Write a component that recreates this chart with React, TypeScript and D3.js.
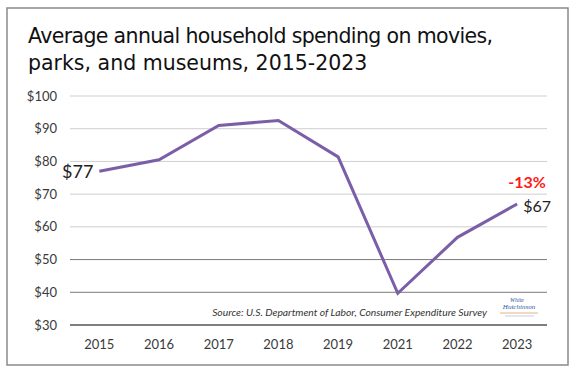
import React from "react";
import * as d3 from "d3";

const years = ["2015", "2016", "2017", "2018", "2019", "2021", "2022", "2023"];
const spending = [77, 80.5, 91, 92.5, 81.4, 39.7, 56.8, 67];
const yTicks = [30, 40, 50, 60, 70, 80, 90, 100];
const titleLines = ["Average annual household spending on movies,", "parks, and museums, 2015-2023"];
const sourceText = "Source: U.S. Department of Labor, Consumer Expenditure Survey";
const changeLabel = "-13%";

export default function App() {
  const W = 574, H = 376;
  const x = d3.scaleBand<string>().domain(years).range([69.5, 547]);
  const y = d3.scaleLinear().domain([30, 100]).range([325, 96]);
  const cx = (d: string) => (x(d) as number) + x.bandwidth() / 2;
  const line = d3.line<number>().x((_, i) => cx(years[i])).y((d) => y(d));
  const gridColor = (t: number) => (t === 30 ? "#555" : t <= 50 ? "#7a7a7a" : "#cfcfcf");
  const first = spending[0];
  const last = spending[spending.length - 1];
  const lastYear = years[years.length - 1];
  return (
    <svg width={W} height={H} style={{ position: "absolute", left: 0, top: 0, background: "#fff" }}>
      <rect x={7} y={8} width={561} height={357} fill="#fff" stroke="#8a8a8a" strokeWidth={1.5} />
      {titleLines.map((t, i) => (
        <text key={i} x={28} y={43 + i * 27} fontFamily="'Comic Sans MS', 'DejaVu Sans', sans-serif" fontSize={20.5} fill="#111" textLength={i === 0 ? 465 : undefined}>
          {t}
        </text>
      ))}
      {yTicks.map((t) => (
        <g key={t}>
          <line x1={70} x2={547} y1={y(t)} y2={y(t)} stroke={gridColor(t)} strokeWidth={t === 30 ? 1.5 : 1} />
          <text x={57} y={y(t)} dy="0.35em" textAnchor="end" fontFamily="Lato, sans-serif" fontSize={13} fill="#3a3a3a">
            ${t}
          </text>
        </g>
      ))}
      {years.map((yr) => (
        <text key={yr} x={cx(yr)} y={349} textAnchor="middle" fontFamily="Lato, sans-serif" fontSize={13} fill="#3a3a3a">
          {yr}
        </text>
      ))}
      <path d={line(spending) as string} fill="none" stroke="#7b5ea7" strokeWidth={3} strokeLinejoin="miter" />
      <text x={cx(years[0]) - 6} y={y(first)} dy="0.35em" textAnchor="end" fontFamily="Lato, sans-serif" fontSize={18} fill="#222">
        ${first}
      </text>
      <text x={cx(lastYear) + 6} y={y(last) + 2} dy="0.35em" textAnchor="start" fontFamily="Lato, sans-serif" fontSize={16} fill="#222">
        ${last}
      </text>
      <text x={527} y={y(last) - 22} dy="0.35em" textAnchor="middle" fontFamily="Lato, sans-serif" fontSize={16} fontWeight={700} fill="#ff1a1a">
        {changeLabel}
      </text>
      <text x={487} y={316} textAnchor="end" fontFamily="Lato, sans-serif" fontStyle="italic" fontSize={10.3} fill="#333">
        {sourceText}
      </text>
      <g fontFamily="'Liberation Serif', serif" fontStyle="italic" fill="#2b56a8">
        <text x={517} y={302} textAnchor="middle" fontSize={6}>White</text>
        <text x={519} y={309} textAnchor="middle" fontSize={7}>Hutchinson</text>
        <line x1={500} x2={538} y1={313} y2={313} stroke="#e0a060" strokeWidth={0.8} />
        <line x1={505} x2={534} y1={316} y2={316} stroke="#8aa0c8" strokeWidth={0.5} />
      </g>
    </svg>
  );
}
